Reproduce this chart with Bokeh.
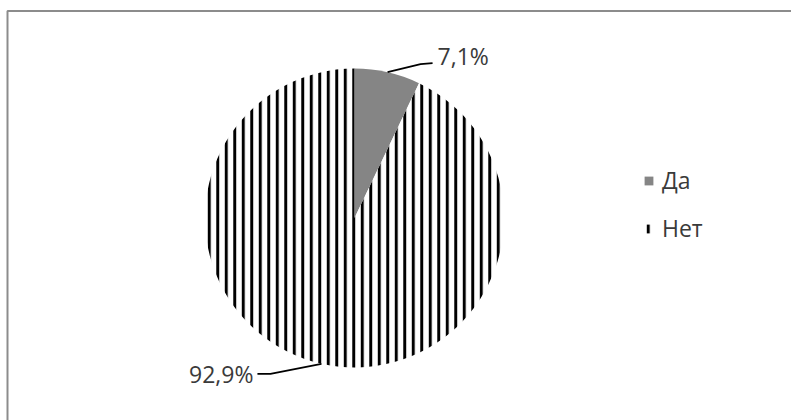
import numpy as np
from bokeh.plotting import figure
from bokeh.models import Range1d, Legend, LegendItem
from bokeh.core.properties import value
from bokeh.embed import file_html
from bokeh.resources import INLINE

# ---- data ----
categories = ["Да", "Нет"]
shares = [7.1, 92.9]
labels = ["7,1%", "92,9%"]

# ---- layout (pixel-like data space) ----
W, H = 791, 420
CX, CY, R = 354.0, 202.5, 149.5
FONT = "Open Sans"
TEXT_COLOR = "#3a3a3a"

p = figure(width=W, height=H, x_range=Range1d(0, W), y_range=Range1d(0, H),
           output_backend="svg", toolbar_location=None, min_border=0,
           x_axis_location=None, y_axis_location=None)
p.grid.visible = False
p.outline_line_color = None
p.background_fill_color = "white"

# chart border (top & left visible)
p.line(x=[7, 7, W], y=[0, 409.5, 409.5], line_color="#8c8c8c", line_width=2)

frac = np.array(shares) / np.sum(shares)
cum = np.cumsum(frac)
start = np.pi / 2 - 2 * np.pi * (cum - frac)
end = np.pi / 2 - 2 * np.pi * cum
mid = (start + end) / 2

r_yes = p.wedge(x=CX, y=CY, radius=R, start_angle=start[0], end_angle=end[0],
                direction="clock", fill_color="#858585", line_color=None)
r_no = p.wedge(x=CX, y=CY, radius=R, start_angle=start[1], end_angle=end[1],
               direction="clock", fill_color="white", line_color=None,
               hatch_pattern="vertical_line", hatch_color="black",
               hatch_scale=8.5, hatch_weight=3.0)

# leader lines & labels
ax = CX + R * np.cos(mid)
ay = CY + R * np.sin(mid)
# offsets: (elbow dx, elbow dy, end dx, end dy, text dx, text dy, align)
offs = [(33, 8, 45, 9, 50, 16, "left"),
        (-51, -10, -64, -10, -68, -10, "right")]
for i in range(len(categories)):
    ex, ey, fx, fy, tx, ty, al = offs[i]
    p.line(x=[ax[i], ax[i] + ex, ax[i] + fx], y=[ay[i], ay[i] + ey, ay[i] + fy],
           line_color="black", line_width=1.8)
    p.text(x=[ax[i] + tx], y=[ay[i] + ty], text=[labels[i]],
           text_font=value(FONT), text_font_size="23px", text_color=TEXT_COLOR,
           text_align=al, text_baseline="middle")

legend = Legend(items=[LegendItem(label=categories[0], renderers=[r_yes]),
                       LegendItem(label=categories[1], renderers=[r_no])],
                location=(643, 176), glyph_width=11, glyph_height=11,
                label_text_font=FONT, label_text_font_size="23px",
                label_text_color=TEXT_COLOR, label_standoff=8,
                spacing=16, padding=0, margin=0,
                border_line_color=None, background_fill_alpha=0)
p.add_layout(legend)

open("out.html", "w").write(file_html(p, INLINE))
